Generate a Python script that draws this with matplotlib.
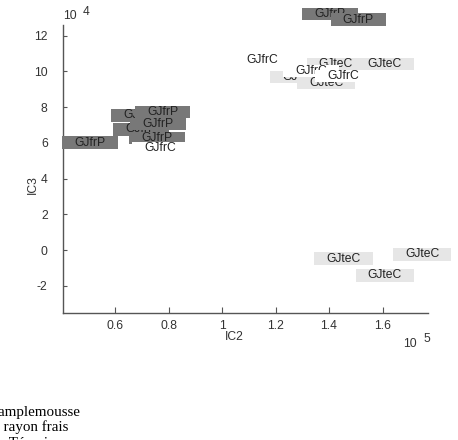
import numpy as np
import matplotlib
matplotlib.use("Agg")
from matplotlib import pyplot as plt
from matplotlib.path import Path

plt.rcParams["font.family"] = ["Liberation Sans", "DejaVu Sans"]

# IC2 en unites de 1e5, IC3 en unites de 1e4 (ordre = ordre de trace)
labels = ["GJfrP", "GJfrP", "GJfrP", "GJfrP", "GJfrP", "GJfrP", "GJfrC",
          "GJfrP", "GJfrP",
          "GJteC", "GJteC", "GJteC", "GJteC",
          "GJfrC", "GJfrC", "GJfrC",
          "GJteC", "GJteC", "GJteC"]
ic2 = [0.5065, 0.688, 0.697, 0.761, 0.757, 0.7776, 0.768,
       1.4037, 1.5095,
       1.290, 1.389, 1.426, 1.609,
       1.3327, 1.4523, 1.1495,
       1.4535, 1.609, 1.7477]
ic3 = [6.02, 7.535, 6.75, 7.06, 6.27, 7.73, 5.71,
       13.22, 12.90,
       9.69, 9.36, 10.42, 10.42,
       10.03, 9.75, 10.64,
       -0.487, -1.42, -0.25]

box_colors = {"GJfrP": "#787878", "GJteC": "#e6e6e6", "GJfrC": "white"}

xticks = [0.6, 0.8, 1, 1.2, 1.4, 1.6]
yticks = [-2, 0, 2, 4, 6, 8, 10, 12]

legend_lines = ["GJfrP : jus de pamplemousse",
                "GJfrC : jus au rayon frais",
                "GJteC : Témoin"]


def wide_box(x0, y0, width, height, mutation_size):
    # boite plus large que haute, comme les etiquettes d'origine
    px = 1.0 * mutation_size
    py = 0.02 * mutation_size
    x0, y0 = x0 - px, y0 - py
    x1, y1 = x0 + width + 2 * px, y0 + height + 2 * py
    return Path([(x0, y0), (x1, y0), (x1, y1), (x0, y1), (x0, y0)],
                closed=True)


fig = plt.figure(figsize=(4.58, 4.4), dpi=100)
ax = fig.add_axes([63 / 458, 1 - 312.7 / 440, 365 / 458, 287.7 / 440])

ax.set_xlim(0.4056, 1.770)
ax.set_ylim(-3.51, 12.6)

for lab, x, y in zip(labels, ic2, ic3):
    ax.text(x, y, lab, ha="center", va="center", fontsize=8.7, color="#222222",
            bbox=dict(boxstyle=wide_box, facecolor=box_colors[lab],
                      edgecolor="none"))

ax.set_xticks(xticks)
ax.set_xticklabels([f"{v:g}" for v in xticks])
ax.set_yticks(yticks)
ax.set_yticklabels([f"{v:g}" for v in yticks])

for s in ["top", "right"]:
    ax.spines[s].set_visible(False)
for s in ["left", "bottom"]:
    ax.spines[s].set_color("#555555")
    ax.spines[s].set_linewidth(1.0)

ax.tick_params(axis="x", direction="in", length=4, pad=5, labelsize=8.7,
               colors="#555555", labelcolor="#333333")
ax.tick_params(axis="y", direction="in", length=3, pad=11, labelsize=8.7,
               colors="#555555", labelcolor="#333333")

ax.set_xlabel("IC2", fontsize=8.7, color="#333333")
ax.xaxis.set_label_coords(0.468, -0.063)
ax.set_ylabel("IC3", fontsize=8.7, color="#333333")
ax.yaxis.set_label_coords(-0.066, 0.444)

# facteurs d'echelle
fig.text(69.5 / 458, 1 - 15.7 / 440, "10", ha="center", va="center",
         fontsize=8.7, color="#333333")
fig.text(86.5 / 458, 1 - 12 / 440, "4", ha="center", va="center",
         fontsize=8.7, color="#333333")
fig.text(409.5 / 458, 1 - 344 / 440, "10", ha="center", va="center",
         fontsize=8.7, color="#333333")
fig.text(427 / 458, 1 - 339 / 440, "5", ha="center", va="center",
         fontsize=8.7, color="#333333")

# legende texte sous le graphique (coupee a gauche)
right_px = [80, 68, 56]
center_py = [412, 427, 443]
for line, rx, cy in zip(legend_lines, right_px, center_py):
    fig.text(rx / 458, 1 - cy / 440, line, ha="right", va="center",
             fontsize=10.8, family=["Liberation Serif", "DejaVu Serif"],
             color="black")

fig.savefig("out.png", dpi=100)
